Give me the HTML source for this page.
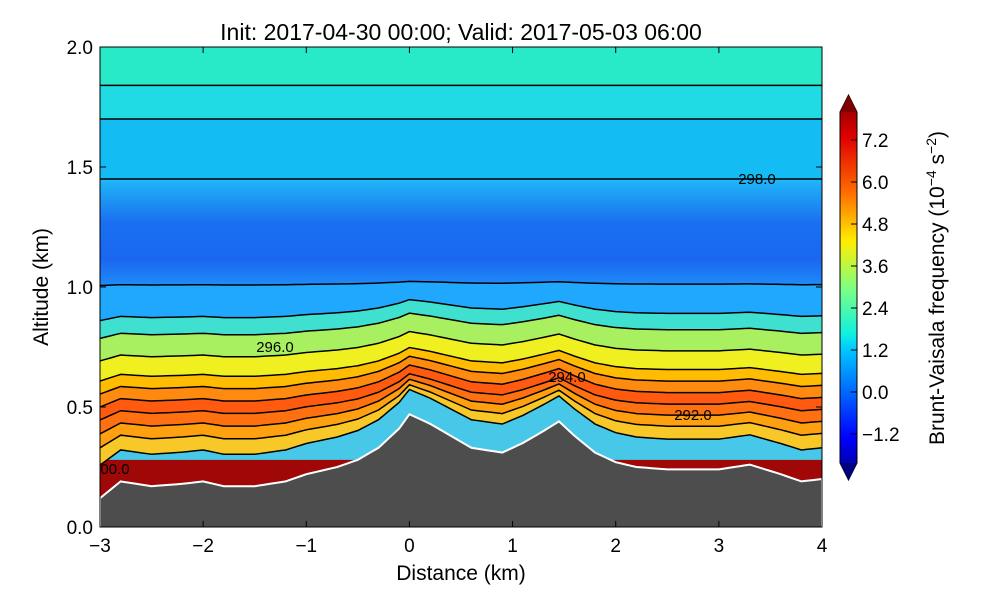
<!DOCTYPE html>
<html><head><meta charset="utf-8"><style>
body{margin:0;background:#fff;}
svg{display:block;font-family:"Liberation Sans",sans-serif;}
</style></head><body>
<svg id="chart" width="1000" height="600">
<defs>
<linearGradient id="jet" x1="0" y1="1" x2="0" y2="0">
<stop offset="0" stop-color="#00007f"/><stop offset="0.11" stop-color="#0000ff"/>
<stop offset="0.34" stop-color="#00c8ff"/><stop offset="0.38" stop-color="#10f0e0"/>
<stop offset="0.5" stop-color="#80ff80"/><stop offset="0.62" stop-color="#ffee00"/>
<stop offset="0.75" stop-color="#ff6a00"/><stop offset="0.89" stop-color="#e00000"/>
<stop offset="1" stop-color="#7f0000"/></linearGradient>
<linearGradient id="upper" x1="0" y1="0" x2="0" y2="1">
<stop offset="0" stop-color="#20b8f8"/><stop offset="0.4" stop-color="#1a70f0"/>
<stop offset="0.75" stop-color="#1a66f0"/><stop offset="1" stop-color="#1e8cf8"/></linearGradient>
<clipPath id="plotclip"><rect x="100" y="47" width="722" height="480"/></clipPath>
</defs>
<text x="461" y="40" font-size="23" text-anchor="middle">Init: 2017-04-30 00:00; Valid: 2017-05-03 06:00</text>
<g id="plot" clip-path="url(#plotclip)"></g>
<rect x="100" y="47" width="722" height="480" fill="none" stroke="#000" stroke-width="1"/>
<g id="axes"></g>
<g id="cbar">
<polygon points="840,112 848.5,95 857,112 857,463 848.5,480 840,463" fill="url(#jet)" stroke="#000"/>
<polygon points="840,112 848.5,95 857,112" fill="#7f0000"/>
<polygon points="840,463 848.5,480 857,463" fill="#00007f"/>
</g>
<text transform="translate(944,288) rotate(-90)" font-size="21" text-anchor="middle">Brunt-Vaisala frequency (10<tspan dy="-8" font-size="14">−4</tspan><tspan dy="8"> s</tspan><tspan dy="-8" font-size="14">−2</tspan><tspan dy="8">)</tspan></text>
</svg>
<script>
const NS="http://www.w3.org/2000/svg";
// terrain data
const terrainX=[-3,-2.8,-2.5,-2.2,-2,-1.8,-1.5,-1.2,-1,-0.7,-0.5,-0.3,-0.1,0,0.2,0.4,0.6,0.9,1.1,1.3,1.45,1.6,1.8,2.0,2.2,2.5,2.8,3.0,3.3,3.6,3.8,4.0];
const terrainY=[0.12,0.19,0.17,0.18,0.19,0.17,0.17,0.19,0.22,0.25,0.28,0.33,0.41,0.47,0.43,0.38,0.33,0.31,0.35,0.40,0.44,0.38,0.31,0.27,0.25,0.24,0.24,0.24,0.26,0.22,0.19,0.20];
// contour levels: base altitude and terrain-following factor
const levelBase=[0.28,0.33,0.39,0.44,0.49,0.54,0.59,0.64,0.72,0.81,0.88,1.01,1.45,1.70,1.84];
const levelK=[0.0,0.9,0.75,0.65,0.55,0.5,0.45,0.4,0.35,0.3,0.25,0.05,0.0,0.0,0.0];
const bandColors=["#48c8e8","#f8c828","#ffa010","#ff7010","#ff5a10","#ff8a10","#ffbc00","#f0f020","#a8f060","#40e0d0","#20a8ff","url(#upper)","#14bcf4","#20dae4","#28eac8"];
const cbTicks=[7.2,6.0,4.8,3.6,2.4,1.2,0.0,-1.2];
const xTicks=[-3,-2,-1,0,1,2,3,4];
const yTicks=[0.0,0.5,1.0,1.5,2.0];
const X=v=>100+(v+3)*722/7, Y=v=>527-v*240, CB=v=>140+(7.2-v)*35;
function terr(x){for(let i=0;i<terrainX.length-1;i++){if(x<=terrainX[i+1]){const t=(x-terrainX[i])/(terrainX[i+1]-terrainX[i]);return terrainY[i]+t*(terrainY[i+1]-terrainY[i]);}}return terrainY[terrainY.length-1];}
const xs=[];for(let x=-3;x<=4.001;x+=0.05)xs.push(x);
function lev(i,x){const t=terr(x);return Math.max(t,levelBase[i]+levelK[i]*(t-0.2));}
const plot=document.getElementById('plot');
function mk(tag,attrs,parent){const e=document.createElementNS(NS,tag);for(const k in attrs)e.setAttribute(k,attrs[k]);parent.appendChild(e);return e;}
let r=mk('rect',{x:100,y:47,width:722,height:480,fill:'#28eac8'},plot);

let p0=mk('path',{d:'M'+xs.map(x=>X(x)+','+Y(lev(0,x))).join('L')+'L822,527L100,527Z',fill:'#a00808'},plot);

for(let i=0;i<levelBase.length;i++){
  const lo=xs.map(x=>X(x)+','+Y(lev(i,x)));
  const hi=i+1<levelBase.length?xs.map(x=>X(x)+','+Y(lev(i+1,x))).reverse():['822,40','100,40'];
  const b=mk('path',{d:'M'+lo.join('L')+'L'+hi.join('L')+'Z',fill:bandColors[i]},plot);
  
}
for(let i=1;i<levelBase.length;i++){
  const l=mk('path',{d:'M'+xs.map(x=>X(x)+','+Y(lev(i,x))).join('L'),fill:'none',stroke:'#000','stroke-width':1.5},plot);
  
}
const tp=mk('path',{d:'M'+xs.map(x=>X(x)+','+Y(terr(x))).join('L')+'L822,530L100,530Z',fill:'#4d4d4d',stroke:'#fff','stroke-width':2},plot);

const labels=[["298.0",757,184],["296.0",275,352],["294.0",567,382],["292.0",693,420],["00.0",115,474]];
labels.forEach(l=>{const t=mk('text',{x:l[1],y:l[2],'font-size':15,'text-anchor':'middle'},plot);t.textContent=l[0];
});
const ax=document.getElementById('axes');
xTicks.forEach(v=>{mk('line',{x1:X(v),x2:X(v),y1:527,y2:521,stroke:'#000'},ax);mk('line',{x1:X(v),x2:X(v),y1:47,y2:53,stroke:'#000'},ax);
 const t=mk('text',{x:X(v),y:552,'font-size':19,'text-anchor':'middle'},ax);t.textContent=v<0?'−'+(-v):v;
 });
yTicks.forEach(v=>{mk('line',{x1:100,x2:106,y1:Y(v),y2:Y(v),stroke:'#000'},ax);mk('line',{x1:822,x2:816,y1:Y(v),y2:Y(v),stroke:'#000'},ax);
 const t=mk('text',{x:93,y:Y(v)+7,'font-size':19,'text-anchor':'end'},ax);t.textContent=v.toFixed(1);
 });
const xt=mk('text',{x:461,y:580,'font-size':21,'text-anchor':'middle'},ax);xt.textContent='Distance (km)';

const yt=mk('text',{transform:'translate(48,287) rotate(-90)','font-size':21,'text-anchor':'middle'},ax);yt.textContent='Altitude (km)';

const cb=document.getElementById('cbar');
cbTicks.forEach(v=>{mk('line',{x1:851,x2:857,y1:CB(v),y2:CB(v),stroke:'#000'},cb);
 const t=mk('text',{x:862,y:CB(v)+7,'font-size':19},cb);t.textContent=v<0?'−'+(-v).toFixed(1):v.toFixed(1);
 });
</script>
</body></html>
